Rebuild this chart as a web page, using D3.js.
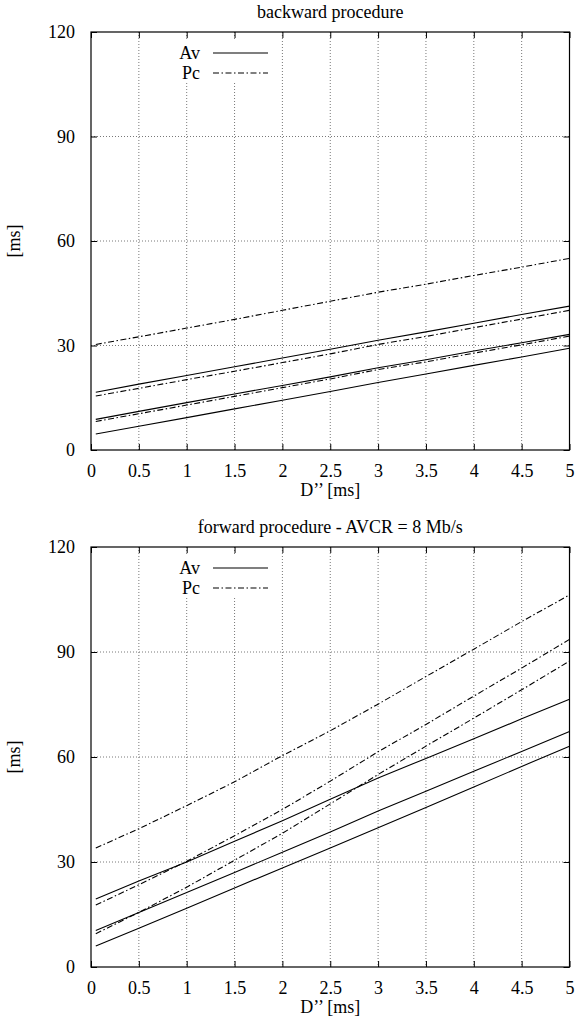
<!DOCTYPE html>
<html><head><meta charset="utf-8">
<script src="https://cdn.jsdelivr.net/npm/d3@7"></script>
<style>body{margin:0;background:#fff}svg text{font-family:"Liberation Serif","Times New Roman",serif !important;fill:#000}</style>
</head><body><svg id="c" width="576" height="1019"></svg>
<script>
const xValues = [0.05, 0.5, 1, 1.5, 2, 2.5, 3, 3.5, 4, 4.5, 5];
const xTicks = [0, 0.5, 1, 1.5, 2, 2.5, 3, 3.5, 4, 4.5, 5];
const yTicks = [0, 30, 60, 90, 120];
const legendLabels = ["Av", "Pc"];

// backward procedure
const backAv1 = [16.6, 18.9, 21.4, 23.9, 26.4, 28.9, 31.5, 33.9, 36.4, 38.9, 41.3];
const backAv2 = [8.8, 11.1, 13.6, 16.1, 18.5, 21.0, 23.6, 25.9, 28.4, 30.8, 33.2];
const backAv3 = [4.6, 6.8, 9.3, 11.8, 14.3, 16.8, 19.4, 21.8, 24.3, 26.7, 29.2];
const backPc1 = [30.3, 32.5, 35.0, 37.5, 40.1, 42.7, 45.3, 47.6, 50.1, 52.5, 55.0];
const backPc2 = [15.5, 17.7, 20.2, 22.6, 25.1, 27.6, 30.3, 32.6, 35.1, 37.6, 40.1];
const backPc3 = [8.2, 10.4, 12.9, 15.4, 17.9, 20.4, 23.1, 25.3, 27.8, 30.2, 32.7];

// forward procedure
const fwdAv1 = [19.4, 24.6, 30.0, 35.9, 41.8, 47.9, 54.0, 59.6, 65.2, 70.9, 76.5];
const fwdAv2 = [10.4, 15.6, 21.3, 27.0, 32.8, 38.6, 44.6, 50.2, 55.9, 61.6, 67.3];
const fwdAv3 = [6.0, 11.1, 16.8, 22.6, 28.3, 34.0, 39.8, 45.6, 51.4, 57.3, 63.1];
const fwdPc1 = [34.0, 39.5, 46.1, 52.9, 60.4, 67.5, 75.1, 83.0, 90.8, 98.7, 106.3];
const fwdPc2 = [17.7, 23.5, 30.2, 37.5, 45.0, 53.1, 61.5, 69.3, 77.4, 85.4, 93.6];
const fwdPc3 = [9.5, 15.6, 22.8, 30.5, 38.2, 46.6, 55.0, 63.1, 71.1, 79.2, 87.4];

const panels = [
  {title: "backward procedure", top: 32, bottom: 450,
   av: [backAv1, backAv2, backAv3], pc: [backPc1, backPc2, backPc3]},
  {title: "forward procedure - AVCR = 8 Mb/s", top: 547, bottom: 967,
   av: [fwdAv1, fwdAv2, fwdAv3], pc: [fwdPc1, fwdPc2, fwdPc3]}
];

const svg = d3.select("#c");
const left = 91, right = 569.5;
const dashPc = "6,2.5,1.5,2.5";
const FS = 18;
const FF = "Liberation Serif";

panels.forEach(p => {
  const g = svg.append("g");
  const x = d3.scaleLinear().domain([0, 5]).range([left, right]);
  const y = d3.scaleLinear().domain([0, 120]).range([p.bottom, p.top]);

  // grid
  g.append("g").selectAll("line").data(xTicks.slice(1, -1)).join("line")
    .attr("x1", d => x(d)).attr("x2", d => x(d)).attr("y1", p.top).attr("y2", p.bottom)
    .attr("stroke", "#555").attr("stroke-width", 0.8).attr("stroke-dasharray", "1,2");
  g.append("g").selectAll("line").data(yTicks.slice(1, -1)).join("line")
    .attr("x1", left).attr("x2", right).attr("y1", d => y(d)).attr("y2", d => y(d))
    .attr("stroke", "#555").attr("stroke-width", 0.8).attr("stroke-dasharray", "1,2");

  // legend background
  g.append("rect").attr("x", 160).attr("y", p.top + 7).attr("width", 112).attr("height", 42)
    .attr("fill", "#fff");

  // axes (ticks inward)
  const axB = d3.axisBottom(x).tickValues(xTicks).tickSize(-6).tickFormat(d3.format("~g")).tickPadding(14);
  const axT = d3.axisTop(x).tickValues(xTicks).tickSize(-6).tickFormat("");
  const axL = d3.axisLeft(y).tickValues(yTicks).tickSize(-6).tickPadding(16);
  const axR = d3.axisRight(y).tickValues(yTicks).tickSize(-6).tickFormat("");
  [[axB, `translate(0,${p.bottom})`], [axT, `translate(0,${p.top})`],
   [axL, `translate(${left},0)`], [axR, `translate(${right},0)`]].forEach(([ax, tr]) => {
    const a = g.append("g").attr("transform", tr).call(ax)
      .attr("font-family", FF).attr("font-size", FS);
    a.select(".domain").remove();
    a.selectAll("line").attr("stroke", "#000").attr("stroke-width", 1);
    a.selectAll("text").style("font-family", FF).style("font-size", FS + "px").attr("fill", "#000");
  });

  // frame
  g.append("rect").attr("x", left).attr("y", p.top).attr("width", right - left).attr("height", p.bottom - p.top)
    .attr("fill", "none").attr("stroke", "#000").attr("stroke-width", 1.2);

  const line = d3.line().x((d, i) => x(xValues[i])).y(d => y(d));
  p.av.forEach(s => g.append("path").datum(s).attr("d", line).attr("fill", "none")
    .attr("stroke", "#000").attr("stroke-width", 1.1));
  p.pc.forEach(s => g.append("path").datum(s).attr("d", line).attr("fill", "none")
    .attr("stroke", "#000").attr("stroke-width", 1.1).attr("stroke-dasharray", dashPc));

  // legend
  legendLabels.forEach((lab, i) => {
    const ly = p.top + 21 + i * 20;
    g.append("text").attr("x", 200).attr("y", ly + 6).attr("text-anchor", "end")
      .style("font-family", FF).style("font-size", FS + "px").text(lab);
    g.append("line").attr("x1", 213).attr("x2", 268).attr("y1", ly).attr("y2", ly)
      .attr("stroke", "#000").attr("stroke-width", 1.1)
      .attr("stroke-dasharray", i === 1 ? dashPc : null);
  });

  // title & labels
  svg.append("text").attr("x", (left + right) / 2).attr("y", p.top - 14).attr("text-anchor", "middle")
    .style("font-family", FF).style("font-size", FS + "px").text(p.title);
  svg.append("text").attr("x", (left + right) / 2).attr("y", p.bottom + 46).attr("text-anchor", "middle")
    .style("font-family", FF).style("font-size", FS + "px").text("D\u2019\u2019 [ms]");
  svg.append("text").attr("transform", `translate(20,${(p.top + p.bottom) / 2}) rotate(-90)`)
    .attr("text-anchor", "middle").style("font-family", FF).style("font-size", FS + "px").text("[ms]");
});
</script></body></html>
